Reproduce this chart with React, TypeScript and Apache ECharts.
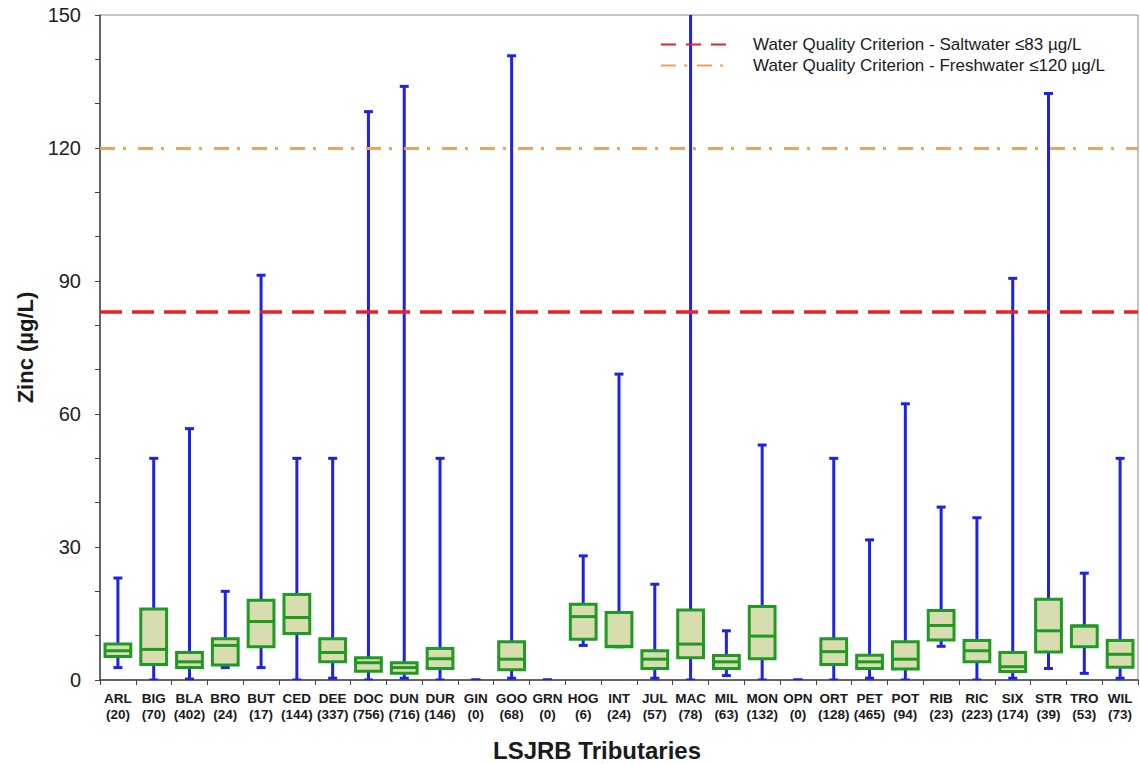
import React, { useEffect, useRef } from "react";
import * as echarts from "echarts";

const categories = ["ARL","BIG","BLA","BRO","BUT","CED","DEE","DOC","DUN","DUR","GIN","GOO","GRN","HOG","INT","JUL","MAC","MIL","MON","OPN","ORT","PET","POT","RIB","RIC","SIX","STR","TRO","WIL"];
const counts = [20,70,402,24,17,144,337,756,716,146,0,68,0,6,24,57,78,63,132,0,128,465,94,23,223,174,39,53,73];
const mins =    [2.8, 0,   0.2, 2.8, 2.8, 0,    0.4, 0,   0.4, 0,   0, 0.4, 0, 7.8,  7.5,  0.4,  0,    1.0,  0,    0, 0,   0.4,  0,    7.6,  0,    0.4,  2.6,   1.5,  0.4];
const q1s =     [5.3, 3.5, 2.8, 3.4, 7.5, 10.5, 4.1, 2.0, 1.5, 2.6, 0, 2.3, 0, 9.2,  7.5,  2.6,  5.0,  2.6,  4.8,  0, 3.5, 2.6,  2.5,  9.0,  4.1,  1.9,  6.3,   7.5,  2.9];
const medians = [6.6, 6.9, 4.1, 7.8, 13.2,14.1, 6.2, 3.9, 2.8, 4.8, 0, 4.7, 0, 14.3, 7.6,  4.7,  8.1,  4.1,  9.9,  0, 6.4, 4.1,  4.7,  12.3, 6.6,  3.0,  11.1,  12.2, 5.8];
const q3s =     [8.1, 16.0,6.2, 9.3, 18.0,19.3, 9.3, 5.0, 3.9, 7.1, 0, 8.6, 0, 17.1, 15.2, 6.6,  15.8, 5.5,  16.6, 0, 9.3, 5.6,  8.6,  15.7, 8.9,  6.2,  18.2,  12.2, 8.9];
const maxes =   [23,  50,  56.7,20,  91.3,50,   50,  128.2,133.9,50, 0, 140.8,0, 28,   69,   21.6, 160,  11.1, 53,   0, 50,  31.6, 62.3, 39,   36.6, 90.6, 132.3, 24.1, 50];

const yTicks = [0, 30, 60, 90, 120, 150];
const saltwaterLimit = 83;
const freshwaterLimit = 120;
const saltName = "Water Quality Criterion - Saltwater ≤83 µg/L";
const freshName = "Water Quality Criterion - Freshwater ≤120 µg/L";

const FONT = "'Liberation Sans', Arial, sans-serif";

export default function App() {
  const ref = useRef<HTMLDivElement>(null);
  useEffect(() => {
    if (!ref.current) return;
    const chart = echarts.init(ref.current, null, { renderer: "svg" });
    const data = categories.map((c, i) => [i, mins[i], q1s[i], medians[i], q3s[i], maxes[i]]);
    const labels = categories.map((c, i) => `${c}\n(${counts[i]})`);
    const option: any = {
      animation: false,
      backgroundColor: "#ffffff",
      textStyle: { fontFamily: FONT },
      grid: { left: 100, right: 2, top: 15, bottom: 84, show: true, borderColor: "#8a8a8a", borderWidth: 1, outerBoundsMode: "none", containLabel: false },
      legend: {
        orient: "vertical",
        left: 660,
        top: 36,
        padding: 0,
        itemWidth: 65,
        itemHeight: 14,
        itemGap: 4,
        itemStyle: { opacity: 0 },
        textStyle: { fontSize: 17, color: "#1a1a1a", fontFamily: FONT, padding: [0, 0, 0, 22] },
        data: [saltName, freshName],
      },
      xAxis: {
        type: "category",
        data: labels,
        boundaryGap: true,
        name: "LSJRB Tributaries",
        nameLocation: "middle",
        nameGap: 58,
        nameTextStyle: { fontSize: 24, fontWeight: "bold", color: "#1a1a1a", fontFamily: FONT, padding: [0, 44, 0, 0] },
        axisLine: { show: true, lineStyle: { color: "#444", width: 1.5 } },
        axisTick: { show: true, alignWithLabel: false, length: 5, lineStyle: { color: "#444" } },
        axisLabel: { interval: 0, fontSize: 13.5, fontWeight: "bold", color: "#1a1a1a", lineHeight: 16, margin: 10, fontFamily: FONT },
        splitLine: { show: false },
      },
      yAxis: {
        type: "value",
        min: 0,
        max: 150,
        interval: 30,
        name: "Zinc (µg/L)",
        nameLocation: "middle",
        nameGap: 62,
        nameTextStyle: { fontSize: 22, fontWeight: "bold", color: "#1a1a1a", fontFamily: FONT },
        axisLine: { show: true, lineStyle: { color: "#444", width: 1.5 } },
        axisTick: { show: true, length: 5, lineStyle: { color: "#444" } },
        minorTick: { show: true, splitNumber: 3, length: 5, lineStyle: { color: "#444" } },
        axisLabel: { fontSize: 20, color: "#222", margin: 19, fontFamily: FONT, formatter: (v: number) => (yTicks.includes(v) ? String(v) : "") },
        splitLine: { show: false },
      },
      series: [
        {
          name: saltName,
          type: "line",
          data: [],
          symbol: "none",
          lineStyle: { color: "#e8202a", width: 3.5, type: [15, 10] },
          itemStyle: { color: "#e8202a" },
          markLine: {
            silent: true,
            symbol: "none",
            label: { show: false },
            lineStyle: { color: "#e8202a", width: 3.5, type: [22, 10] },
            data: [{ yAxis: saltwaterLimit }],
          },
          z: 1,
        },
        {
          name: freshName,
          type: "line",
          data: [],
          symbol: "none",
          lineStyle: { color: "#eda45a", width: 3, type: [15, 8, 3, 10] },
          itemStyle: { color: "#eda45a" },
          markLine: {
            silent: true,
            symbol: "none",
            label: { show: false },
            lineStyle: { color: "#eda45a", width: 3, type: [15, 8, 3, 12] },
            data: [{ yAxis: freshwaterLimit }],
          },
          z: 1,
        },
        {
          type: "custom",
          clip: true,
          z: 3,
          encode: { x: 0, y: [1, 2, 3, 4, 5] },
          data,
          renderItem: (params: any, api: any) => {
            const idx = api.value(0);
            const lo = api.coord([idx, api.value(1)]);
            const q1 = api.coord([idx, api.value(2)]);
            const med = api.coord([idx, api.value(3)]);
            const q3 = api.coord([idx, api.value(4)]);
            const hi = api.coord([idx, api.value(5)]);
            const band = api.size([1, 0])[0];
            const bw = band * 0.72;
            const cw = 9;
            const cx = lo[0];
            const whisker = { stroke: "#1e22e6", lineWidth: 3 };
            const children: any[] = [
              { type: "line", shape: { x1: cx, y1: lo[1], x2: cx, y2: hi[1] }, style: whisker },
              { type: "line", shape: { x1: cx - cw / 2, y1: lo[1], x2: cx + cw / 2, y2: lo[1] }, style: whisker },
              { type: "line", shape: { x1: cx - cw / 2, y1: hi[1], x2: cx + cw / 2, y2: hi[1] }, style: whisker },
            ];
            if (api.value(4) > api.value(2)) {
              children.push({
                type: "rect",
                shape: { x: cx - bw / 2, y: q3[1], width: bw, height: q1[1] - q3[1] },
                style: { fill: "#d8ddb0", stroke: "#1f9a22", lineWidth: 3 },
              });
              children.push({
                type: "line",
                shape: { x1: cx - bw / 2, y1: med[1], x2: cx + bw / 2, y2: med[1] },
                style: { stroke: "#1f9a22", lineWidth: 3 },
              });
            }
            return { type: "group", children };
          },
        },
      ],
    };
    chart.setOption(option);
    return () => chart.dispose();
  }, []);
  return <div ref={ref} style={{ position: "fixed", left: 0, top: 0, width: 1140, height: 764 }} />;
}
